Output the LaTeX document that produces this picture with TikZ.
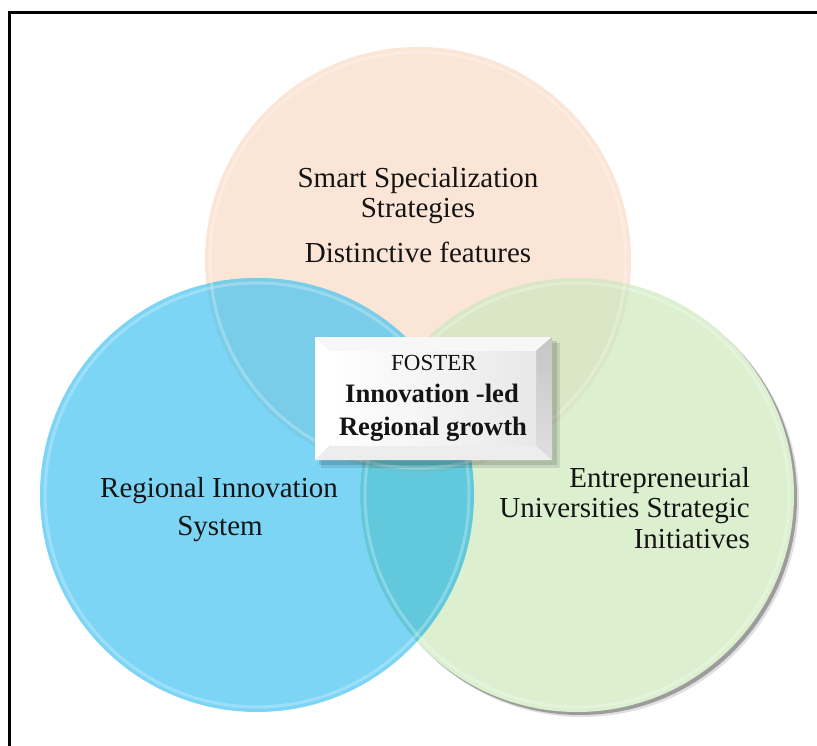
\documentclass[tikz,border=0pt]{standalone}
\usepackage{fontspec}
\setmainfont{Liberation Serif}
\definecolor{peach}{RGB}{251,229,214}
\definecolor{skyb}{RGB}{125,213,246}
\definecolor{lgreen}{RGB}{220,240,208}
\definecolor{bpov}{RGB}{122,205,233}
\definecolor{gpov}{RGB}{218,231,198}
\definecolor{bgov}{RGB}{98,201,220}
\definecolor{bgpov}{RGB}{104,196,208}
\tikzset{
  bigtxt/.style={font=\fontsize{29}{31}\selectfont, inner sep=0pt, text=black!92},
  boxtxt/.style={font=\fontsize{26.6}{30}\selectfont\bfseries, inner sep=0pt, text=black!92},
  rim/.style={white, opacity=0.25, line width=3pt}
}
\begin{document}
\begin{tikzpicture}[x=1pt,y=-1pt]
\useasboundingbox (0,0) rectangle (817,746);
\fill[white] (0,0) rectangle (817,746);
% frame
\draw[line width=3pt, line join=miter] (9.5,746) -- (9.5,13) -- (817,13);

\coordinate (cp) at (418,260);
\coordinate (cb) at (257,495);
\coordinate (cg) at (577,495);

% circles
\fill[peach] (cp) circle (213pt);
\fill[skyb] (cb) circle (217pt);
\fill[black, opacity=0.12] ([shift={(5,5)}]cg) circle (217pt);
\fill[black, opacity=0.30] ([shift={(3,3)}]cg) circle (217pt);
\fill[lgreen] (cg) circle (217pt);
% overlaps
\begin{scope}\clip (cp) circle (213pt); \fill[bpov] (cb) circle (217pt); \end{scope}
\begin{scope}\clip (cp) circle (213pt); \fill[gpov] (cg) circle (217pt); \end{scope}
\begin{scope}\clip (cb) circle (217pt); \fill[bgov] (cg) circle (217pt); \end{scope}
\begin{scope}\clip (cb) circle (217pt); \clip (cp) circle (213pt); \fill[bgpov] (cg) circle (217pt); \end{scope}
% rims
\draw[rim] (cp) circle (208pt);
\draw[rim] (cb) circle (212pt);
\draw[rim] (cg) circle (212pt);

% centre box shadow
\fill[black, opacity=0.10] (321,343) rectangle (560,468);
\fill[black, opacity=0.12] (319,341) rectangle (557,465);
% bevel box
\fill[gray!6] (315,337) -- (552,337) -- (536,351) -- (331,351) -- cycle;
\fill[white] (315,337) -- (331,351) -- (331,445) -- (315,460) -- cycle;
\fill[gray!14] (315,460) -- (331,445) -- (536,445) -- (552,460) -- cycle;
\shade[top color=gray!45, bottom color=gray!25] (552,337) -- (536,351) -- (536,445) -- (552,460) -- cycle;
\shade[left color=white, right color=gray!18] (331,351) rectangle (536,445);

% texts
\node[bigtxt, anchor=base] (t1) at (418,188) {Smart Specialization};
\node[bigtxt, anchor=base] (t2) at (418,218) {Strategies};
\node[bigtxt, anchor=base] (t3) at (418,262) {Distinctive features};

\node[bigtxt, anchor=base] (l1) at (219,497) {Regional Innovation};
\node[bigtxt, anchor=base] (l2) at (220,535) {System};

\node[bigtxt, anchor=base east] (r1) at (750,487) {Entrepreneurial};
\node[bigtxt, anchor=base east] (r2) at (750,517) {Universities Strategic};
\node[bigtxt, anchor=base east] (r3) at (750,548) {Initiatives};

\node[inner sep=0pt, font=\fontsize{23}{26}\selectfont, text=black!92, anchor=base] (b1) at (434,370) {FOSTER};
\node[boxtxt, anchor=base] (b2) at (432,402) {Innovation -led};
\node[boxtxt, anchor=base] (b3) at (433,435) {Regional growth};
\end{tikzpicture}
\end{document}
